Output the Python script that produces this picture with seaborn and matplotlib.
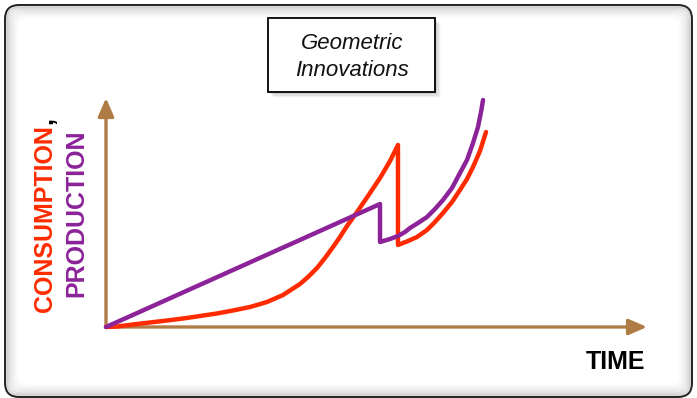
import matplotlib
matplotlib.use("Agg")
import matplotlib.pyplot as plt
import seaborn as sns
import pandas as pd
from matplotlib.patches import FancyBboxPatch, Rectangle

sns.set_theme(style="white")
plt.rcParams["font.family"] = ["Liberation Sans", "DejaVu Sans"]

# Production path: linear growth, collapse at the innovation, then geometric take-off
prod_time = [0.0, 50.65, 50.65, 52.50, 53.97, 55.27, 56.19, 57.67, 59.33, 60.81,
             62.29, 63.96, 65.43, 66.73, 67.84, 68.76, 69.32, 69.69]
prod_level = [0.0, 53.71, 37.12, 38.43, 39.74, 41.48, 43.23, 45.41, 48.03, 51.53,
              55.46, 60.70, 67.25, 72.93, 80.35, 87.34, 93.89, 99.13]

# Consumption path: accelerating growth, crash, then renewed geometric growth
cons_time = [0.0, 2.03, 4.99, 8.13, 11.28, 14.23, 17.38, 20.52, 23.48, 26.62,
             29.76, 32.72, 35.86, 37.34, 39.00, 40.48, 41.96, 43.25, 44.55, 46.40,
             48.43, 50.65, 52.50, 53.97, 53.97, 55.82, 57.49, 59.33, 60.81, 62.29,
             63.96, 65.43, 66.73, 67.84, 69.13, 70.24]
cons_level = [0.0, 0.22, 1.09, 1.97, 2.84, 3.71, 4.80, 5.90, 7.21, 8.73,
              10.92, 13.97, 18.78, 21.83, 25.76, 30.13, 34.93, 39.30, 44.10, 50.22,
              57.21, 65.07, 72.49, 79.48, 35.81, 37.55, 39.30, 42.36, 45.85, 49.78,
              54.59, 59.83, 64.63, 69.87, 76.86, 85.15]

title_text = "Geometric\nInnovations"
y_label_cons = "CONSUMPTION"
y_label_prod = "PRODUCTION"
x_label = "TIME"

RED = "#FF2B00"
PURPLE = "#8C2399"
BROWN = "#B07C45"

W, H = 697, 398
fig = plt.figure(figsize=(W / 100, H / 100), dpi=100)
fig.patch.set_facecolor("white")

# Decoration layer in pixel coordinates
bg = fig.add_axes([0, 0, 1, 1])
bg.set_xlim(0, W)
bg.set_ylim(H, 0)
bg.axis("off")

# rounded outer frame with a soft inner shade
for i, a in enumerate([0.11, 0.08, 0.06, 0.045, 0.03, 0.02, 0.012]):
    inset = 1.5 + i * 1.7
    bg.add_patch(FancyBboxPatch((5 + inset, 5 + inset), 687 - 2 * inset, 392 - 2 * inset,
                                boxstyle="round,pad=0,rounding_size=12",
                                fc="none", ec="black", lw=2.4, alpha=a, zorder=1))
bg.add_patch(FancyBboxPatch((5, 5), 687, 392, boxstyle="round,pad=0,rounding_size=14",
                            fc="none", ec="#222222", lw=1.4, zorder=2))

# title box with drop shadow
for i, a in enumerate([0.10, 0.08, 0.06, 0.04, 0.02]):
    off = 1 + i * 1.3
    bg.add_patch(Rectangle((268 + off, 18 + off), 167, 74, fc="black", ec="none",
                           alpha=a, zorder=3))
bg.add_patch(Rectangle((268, 18), 167, 74, fc="white", ec="black", lw=1.3, zorder=4))
bg.text(352, 57, title_text, ha="center", va="center", fontsize=16, style="italic",
        linespacing=1.4, color="#111111", zorder=5)

# axis labels
cons_txt = bg.text(52, 312, y_label_cons, rotation=90, rotation_mode="anchor",
                   ha="left", va="baseline", fontsize=18, fontweight="bold", color=RED)
bg.text(83, 297, y_label_prod, rotation=90, rotation_mode="anchor",
        ha="left", va="baseline", fontsize=18, fontweight="bold", color=PURPLE)
bg.text(615, 362, x_label, ha="center", va="center", fontsize=18,
        fontweight="bold", color="black")

# Plot area: origin at the corner of the two arrows
ax = fig.add_axes([106 / W, 71 / H, 541 / W, 229 / H])
ax.patch.set_alpha(0)

arrow_kw = dict(arrowstyle="-|>,head_length=0.55,head_width=0.24", color=BROWN,
                lw=2.4, mutation_scale=20, shrinkA=0, shrinkB=0)
ax.annotate("", xy=(100, 0), xytext=(0, 0), arrowprops=arrow_kw,
            annotation_clip=False, zorder=1)
ax.annotate("", xy=(0, 100), xytext=(0, 0), arrowprops=arrow_kw,
            annotation_clip=False, zorder=1)

prod = pd.DataFrame({"time": prod_time, "level": prod_level})
cons = pd.DataFrame({"time": cons_time, "level": cons_level})
sns.lineplot(data=cons, x="time", y="level", sort=False, estimator=None, ax=ax,
             color=RED, lw=3.2, zorder=3)
sns.lineplot(data=prod, x="time", y="level", sort=False, estimator=None, ax=ax,
             color=PURPLE, lw=3.2, zorder=4)
for line in ax.lines:
    line.set_solid_capstyle("round")
    line.set_solid_joinstyle("round")
    line.set_clip_on(False)
ax.set_xlim(0, 100)
ax.set_ylim(0, 100)
ax.axis("off")

# black comma trailing the consumption label
fig.canvas.draw()
bb = cons_txt.get_window_extent().transformed(bg.transData.inverted())
top = min(bb.y0, bb.y1)
bg.text(52, top - 1, ",", rotation=90, rotation_mode="anchor", ha="left",
        va="baseline", fontsize=18, fontweight="bold", color="black")

fig.savefig("out.png", dpi=100, facecolor="white")
